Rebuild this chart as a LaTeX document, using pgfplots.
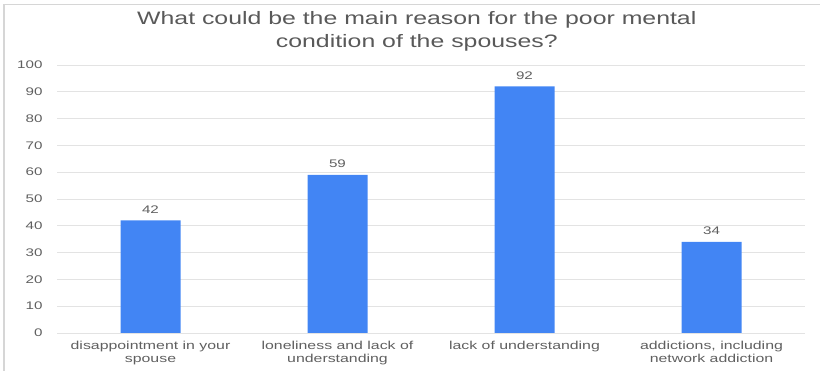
\documentclass[border=0pt]{standalone}
\usepackage{fontspec}
\setmainfont{Liberation Sans}[FakeStretch=1.38]
\usepackage{pgfplots}
\pgfplotsset{compat=1.18}
\definecolor{barblue}{HTML}{4285F4}
\definecolor{titlegray}{HTML}{595959}
\definecolor{labelgray}{HTML}{5F5F5F}
\definecolor{gridgray}{HTML}{E3E3E3}
\definecolor{framegray}{HTML}{D6D6D6}
\begin{document}
\begin{tikzpicture}[x=1pt,y=1pt]
\useasboundingbox (-57,-38) rectangle (763,333);
% outer chart frame (left and top edges)
\draw[framegray, line width=1.6pt] (-53,-40) -- (-53,328.5) -- (766,328.5);
\begin{axis}[
  at={(0pt,0pt)}, anchor=south west,
  scale only axis, width=748pt, height=268pt,
  xmin=-0.5, xmax=3.5, ymin=0, ymax=100,
  ytick={0,10,...,100},
  xtick={0,1,2,3},
  xticklabels={{disappointment in your\\spouse},
               {loneliness and lack of\\understanding},
               {lack of understanding},
               {addictions, including\\network addiction}},
  major tick length=0pt,
  axis line style={draw=none},
  ymajorgrids, major grid style={gridgray, line width=0.9pt},
  /pgf/number format/assume math mode=true,
  yticklabel style={font=\fontsize{11}{13}\selectfont, text=labelgray, xshift=-11pt},
  xticklabel style={font=\fontsize{11.5}{13}\selectfont, text=labelgray, align=center, anchor=north, yshift=-5pt},
  title={What could be the main reason for the poor mental\\condition of the spouses?},
  title style={font=\fontsize{18}{23}\selectfont, text=titlegray, align=center,
               at={(axis description cs:0.481,1.102)}, anchor=center},
  ybar, bar width=60pt,
  nodes near coords,
  nodes near coords style={font=\fontsize{11}{13}\selectfont, text=labelgray, yshift=3.5pt},
  clip=false,
]
\addplot[fill=barblue, draw=none] coordinates {(0,42) (1,59) (2,92) (3,34)};
\end{axis}
\end{tikzpicture}
\end{document}
